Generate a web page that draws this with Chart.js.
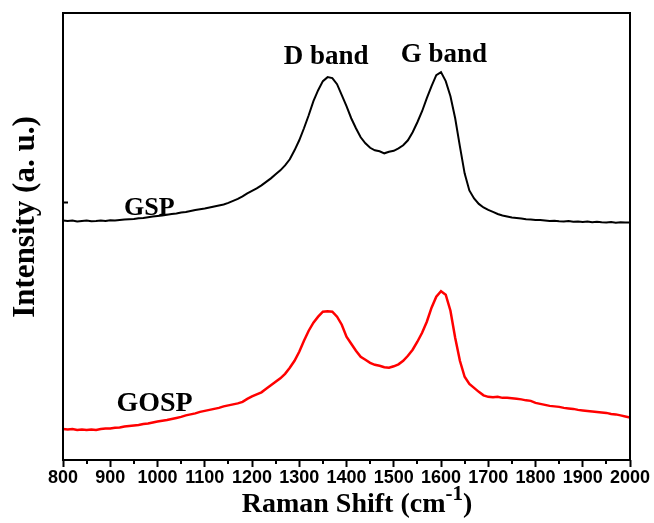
<!DOCTYPE html>
<html>
<head>
<meta charset="utf-8">
<script src="https://cdn.jsdelivr.net/npm/chart.js@4"></script>
<style>
  html, body { margin: 0; padding: 0; background: #fff; }
  #wrap { width: 654px; height: 523px; }
</style>
</head>
<body>
<div id="wrap"><canvas id="ramanChart"></canvas></div>
<script>
// Raman shift (cm-1), every 10 from 800 to 2000
const shifts = [];
for (let s = 800; s <= 2000; s += 10) shifts.push(s);

// intensities (arbitrary units)
const gspValues = [
  239, 238.5, 239, 238, 238.5, 239, 238.2, 238.5, 239, 238.4,
  239.2, 239, 239.5, 240, 240.2, 240.5, 241.2, 241.5, 242.2, 243,
  243.5, 244, 244.8, 245.5, 246, 247, 247.5, 248.5, 249.5, 250.2,
  251, 252, 253, 254, 255, 256.5, 258.5, 260.5, 263, 266,
  268.5, 271, 274, 277.5, 281, 285, 289, 294, 300, 309,
  319, 331, 344, 358, 369, 378, 382, 381, 375, 364,
  353, 341, 331, 322, 316, 311.5, 309, 308, 306, 307.5,
  308.5, 311, 314, 319, 327, 337, 348, 361, 373, 384,
  387, 378, 363, 341, 313, 286, 269, 261, 255.5, 252,
  249.5, 247.5, 245.5, 244, 243, 242, 241.5, 241, 240.2, 240,
  239.5, 239.5, 239, 238.5, 238.7, 238.2, 238, 238.4, 237.8, 238,
  237.5, 238, 237.2, 237.7, 237.2, 237, 237.5, 236.8, 237.2, 237,
  237
];
const gospValues = [
  31, 30.5, 31, 30, 30.5, 30, 30.5, 30, 31, 31.5,
  31.5, 32.2, 32.5, 33.5, 34, 34.5, 35, 36, 36.5, 37.5,
  38.5, 39.2, 40, 41, 42, 43, 44.5, 45.5, 46.5, 48,
  49, 50, 51, 52, 53.5, 54.5, 55.5, 56.5, 58, 61,
  63.5, 65.5, 67.5, 71, 74.5, 78, 81.5, 86, 92, 99,
  108, 119, 129, 137, 143, 148, 148.5, 148, 143, 135,
  123, 116, 109, 103, 100, 97, 95, 94, 92.5, 92,
  93.5, 95.5, 99, 104, 110, 118, 127, 138, 152, 163,
  168.5, 165, 149, 122, 99, 83, 76, 72, 68, 64.5,
  63, 62.5, 63, 62, 62, 61.5, 61, 60.5, 59.5, 59,
  57, 56, 55, 54, 53.5, 53, 52, 51.5, 51, 50,
  49.5, 49, 48.5, 48, 47.5, 47, 46, 45.5, 44.5, 43.5,
  42.5
];

const xTicks = [800, 900, 1000, 1100, 1200, 1300, 1400, 1500, 1600, 1700, 1800, 1900, 2000];
const minorTicks = [850, 950, 1050, 1150, 1250, 1350, 1450, 1550, 1650, 1750, 1850, 1950];

const toPoints = vals => vals.map((v, i) => ({ x: shifts[i], y: v }));

const serif = '"Liberation Serif", "Times New Roman", serif';

// frame, minor ticks, titles and peak labels
const decorations = {
    id: 'decorations',
    afterDraw(chart) {
        const c = chart.ctx;
        const a = chart.chartArea;
        const xs = chart.scales.x;
        const ys = chart.scales.y;
        c.save();
        c.strokeStyle = '#000';
        c.lineWidth = 2;
        c.strokeRect(a.left, a.top, a.right - a.left, a.bottom - a.top);

        c.beginPath();
        minorTicks.forEach(t => {
            const px = Math.round(xs.getPixelForValue(t));
            c.moveTo(px, a.bottom);
            c.lineTo(px, a.bottom + 4);
        });
        // lone tick on the left axis
        const ty = ys.getPixelForValue(257);
        c.moveTo(a.left, ty);
        c.lineTo(a.left + 5, ty);
        c.stroke();

        c.fillStyle = '#000';
        c.font = 'bold 27px ' + serif;
        c.textBaseline = 'alphabetic';
        c.textAlign = 'center';
        c.fillText('D band', xs.getPixelForValue(1357), ys.getPixelForValue(395));
        c.fillText('G band', xs.getPixelForValue(1606), ys.getPixelForValue(397));
        c.textAlign = 'left';
        c.font = 'bold 26px ' + serif;
        c.fillText('GSP', xs.getPixelForValue(929), ys.getPixelForValue(244));
        c.font = 'bold 28px ' + serif;
        c.fillText('GOSP', xs.getPixelForValue(913), ys.getPixelForValue(49));

        // x title with superscript
        const big = 'bold 28px ' + serif;
        const small = 'bold 21px ' + serif;
        const main = 'Raman Shift (cm';
        c.font = big;
        const w1 = c.measureText(main).width;
        const w3 = c.measureText(')').width;
        c.font = small;
        const w2 = c.measureText('-1').width;
        const total = w1 + w2 + w3;
        const x0 = 357 - total / 2;
        const base = 512;
        c.font = big;
        c.fillText(main, x0, base);
        c.font = small;
        c.fillText('-1', x0 + w1, base - 12);
        c.font = big;
        c.fillText(')', x0 + w1 + w2, base);

        // y title
        c.translate(34, 217);
        c.rotate(-Math.PI / 2);
        c.textAlign = 'center';
        c.font = 'bold 31px ' + serif;
        c.fillText('Intensity (a. u.)', 0, 0);
        c.restore();
    }
};

new Chart(document.getElementById('ramanChart'), {
    type: 'line',
    data: {
        datasets: [
            {
                label: 'GSP',
                data: toPoints(gspValues),
                borderColor: '#000',
                borderWidth: 2,
                pointRadius: 0,
                tension: 0
            },
            {
                label: 'GOSP',
                data: toPoints(gospValues),
                borderColor: '#ff0000',
                borderWidth: 2.5,
                pointRadius: 0,
                tension: 0
            }
        ]
    },
    options: {
        responsive: true,
        maintainAspectRatio: false,
        animation: false,
        layout: { padding: { top: 13, right: 24, left: 0, bottom: 0 } },
        plugins: {
            legend: { display: false },
            tooltip: { enabled: false }
        },
        scales: {
            x: {
                type: 'linear',
                min: 800,
                max: 2000,
                afterBuildTicks: scale => { scale.ticks = xTicks.map(v => ({ value: v })); },
                afterFit: scale => { scale.height = 63; },
                border: { display: false },
                grid: {
                    drawOnChartArea: false,
                    drawTicks: true,
                    tickLength: 7,
                    tickColor: '#000',
                    tickWidth: 2
                },
                ticks: {
                    color: '#000',
                    maxRotation: 0,
                    autoSkip: false,
                    padding: 0,
                    callback: v => String(v),
                    font: { family: '"Liberation Sans", Arial, sans-serif', weight: 'bold', size: 18 }
                }
            },
            y: {
                min: 0,
                max: 446,
                afterFit: scale => { scale.width = 63; },
                border: { display: false },
                grid: { display: false },
                ticks: { display: false }
            }
        }
    },
    plugins: [decorations]
});
</script>
</body>
</html>
